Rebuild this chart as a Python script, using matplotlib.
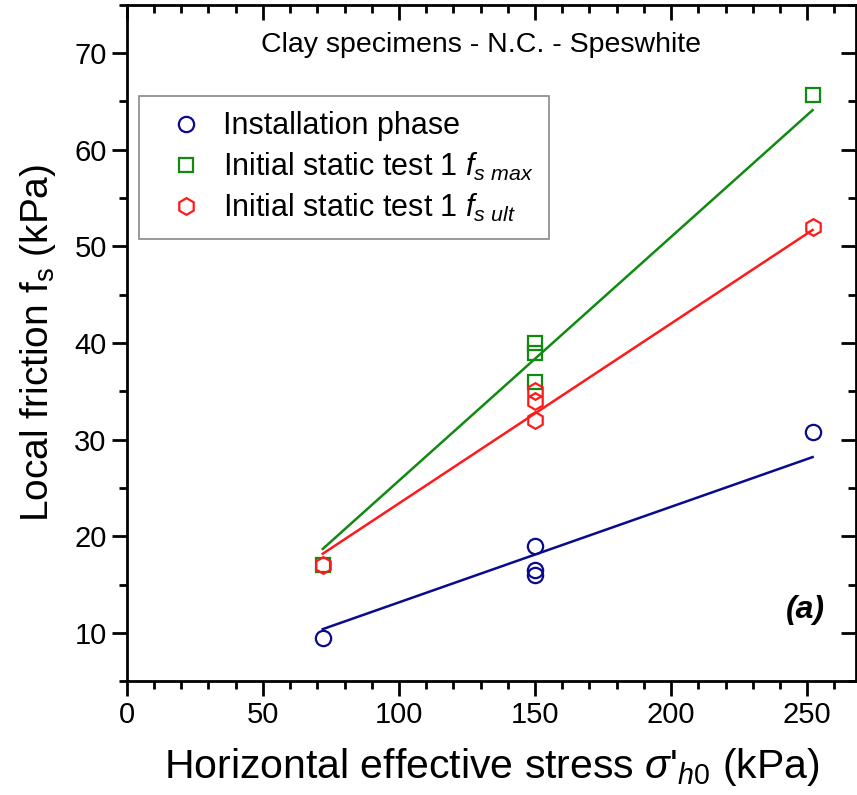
import matplotlib.pyplot as plt

plt.rcParams['font.family'] = ['Liberation Sans', 'DejaVu Sans']
plt.rcParams['mathtext.fontset'] = 'custom'
plt.rcParams['mathtext.rm'] = 'Liberation Sans'
plt.rcParams['mathtext.it'] = 'Liberation Sans:italic'
plt.rcParams['mathtext.bf'] = 'Liberation Sans:bold'

# data
install_x = [72, 150, 150, 150, 252]
install_y = [9.5, 19.0, 16.5, 16.0, 30.8]
fmax_x = [72, 150, 150, 150, 252]
fmax_y = [17.0, 40.0, 39.0, 36.0, 65.7]
fult_x = [72, 150, 150, 150, 252]
fult_y = [17.0, 35.0, 34.0, 32.0, 52.0]

# trend lines (end points)
fit_x = [72, 252]
fit_install = [10.4, 28.2]
fit_fmax = [18.7, 64.1]
fit_fult = [18.2, 51.7]

xticks = [0, 50, 100, 150, 200, 250]
yticks = [10, 20, 30, 40, 50, 60, 70]

blue = '#0a0a8c'
green = '#118a11'
red = '#ff1a1a'

fig = plt.figure(figsize=(8.57, 7.95), dpi=100)
ax = fig.add_axes([0.148, 0.143, 0.851, 0.851])

ax.plot(fit_x, fit_install, color=blue, lw=1.8)
ax.plot(fit_x, fit_fmax, color=green, lw=1.8)
ax.plot(fit_x, fit_fult, color=red, lw=1.8)

ax.plot(install_x, install_y, 'o', ms=11, mfc='none', mec=blue, mew=1.6,
        label='Installation phase')
ax.plot(fmax_x, fmax_y, 's', ms=10, mfc='none', mec=green, mew=1.6,
        label=r'Initial static test 1 $f_{s\ max}$')
ax.plot(fult_x, fult_y, 'h', ms=12, mfc='none', mec=red, mew=1.6,
        label=r'Initial static test 1 $f_{s\ ult}$')

ax.set_xlim(0, 268)
ax.set_ylim(5, 75)
ax.set_xticks(xticks)
ax.set_xticks(range(0, 270, 10), minor=True)
ax.set_yticks(yticks)
ax.set_yticks(range(5, 76, 5), minor=True)

for s in ax.spines.values():
    s.set_linewidth(2)

ax.tick_params(which='both', direction='out', width=2, labelsize=21)
ax.tick_params(which='major', length=11)
ax.tick_params(which='minor', length=6)

# inward ticks on top and right
top = ax.secondary_xaxis('top')
top.set_xticks(xticks)
top.set_xticks(range(0, 270, 10), minor=True)
top.tick_params(which='both', direction='in', width=2, labeltop=False)
top.tick_params(which='major', length=11)
top.tick_params(which='minor', length=6)
right = ax.secondary_yaxis('right')
right.set_yticks(yticks)
right.set_yticks(range(5, 76, 5), minor=True)
right.tick_params(which='both', direction='in', width=2, labelright=False)
right.tick_params(which='major', length=11)
right.tick_params(which='minor', length=6)

ax.set_xlabel(r"Horizontal effective stress $\sigma$'$_{\mathit{h0}}$ (kPa)", fontsize=29.5, labelpad=12)
ax.set_ylabel(r'Local friction f$_\mathregular{s}$ (kPa)', fontsize=28, labelpad=12)

ax.text(0.485, 0.94, 'Clay specimens - N.C. - Speswhite', transform=ax.transAxes,
        ha='center', va='center', fontsize=20.5)
ax.text(0.93, 0.105, '(a)', transform=ax.transAxes, ha='center', va='center',
        fontsize=23, fontweight='bold', fontstyle='italic')

leg = ax.legend(loc='upper left', bbox_to_anchor=(0.0165, 0.865), borderaxespad=0,
                fontsize=22, fancybox=False, edgecolor='#888888', framealpha=1,
                handlelength=2.1, handletextpad=0.15, borderpad=0.5,
                labelspacing=0.3)
leg.get_frame().set_linewidth(1.2)

plt.savefig('out.png', dpi=100)
